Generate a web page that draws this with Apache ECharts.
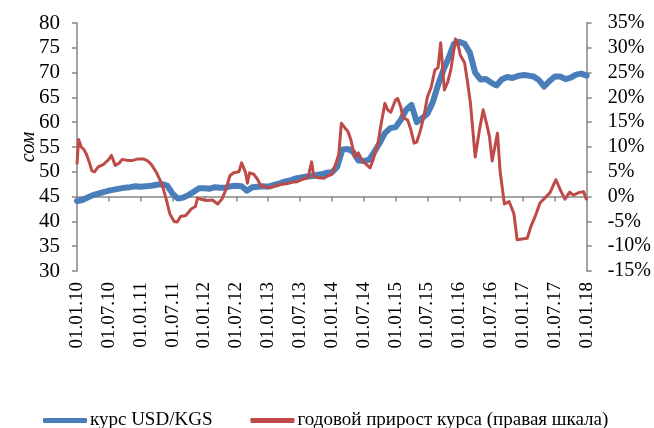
<!DOCTYPE html>
<html>
<head>
<meta charset="utf-8">
<script src="https://cdn.jsdelivr.net/npm/echarts@6/dist/echarts.min.js"></script>
<style>
  html, body { margin: 0; padding: 0; background: #fff; }
  #kgsChart { width: 654px; height: 428px; }
</style>
</head>
<body>
<div id="kgsChart"></div>
<script>
  // курс USD/KGS, по месяцам начиная с 01.01.10 (индекс = номер месяца)
  var rateValues = [
    44.1, 44.3, 44.8, 45.3, 45.6, 45.9, 46.2, 46.4, 46.6, 46.8, 46.9, 47.1,
    47.0, 47.1, 47.2, 47.4, 47.5, 47.2, 45.6, 44.6, 44.8, 45.3, 46.0, 46.7,
    46.7, 46.6, 46.9, 46.8, 46.8, 47.1, 47.2, 47.1, 46.2, 46.9, 47.0, 47.1,
    47.0, 47.3, 47.6, 48.0, 48.2, 48.6, 48.8, 49.0, 49.1, 49.3, 49.5, 49.8,
    49.9, 51.0, 54.5, 54.6, 54.0, 52.3, 52.2, 52.4, 54.0, 55.8, 57.8, 58.8,
    59.0, 60.5, 62.5, 63.5, 60.0, 60.8, 61.7, 64.0, 67.5, 70.5, 73.0, 75.8,
    76.2, 75.8, 74.0, 70.0, 68.6, 68.7, 68.0, 67.4, 68.6, 69.1, 68.9, 69.3,
    69.5, 69.4, 69.2, 68.5, 67.2, 68.3, 69.2, 69.2, 68.7, 69.0, 69.6, 69.8,
    69.4
  ]

  // годовой прирост курса, %: момент (в месяцах от 01.01.10) и значение
  var growthMonths = [
    0, 0.3, 0.8, 1.3, 1.8, 2.3, 2.8, 3.3, 4, 5, 6, 6.5, 7.2, 8, 8.5, 9.5, 10.5, 11.5,
    12.5, 13.3, 14, 15, 16, 16.8, 17.5, 18.3, 18.9, 19.5, 20.5, 21.5, 22.3, 22.7, 23.5,
    24.5, 25.5, 26.5, 27.3, 28, 28.8, 29.5, 30.5, 31, 31.7, 32.1, 32.5, 33.3, 34, 34.6, 35.5,
    36.5, 37.5, 38.5, 39.5, 40.5, 41.5, 42.5, 43.5, 44.2, 44.6, 45.5, 46.5, 47.3,
    48, 48.7, 49.3, 49.8, 50.5, 51, 51.6, 52.3, 53, 53.6, 54.2, 55.2, 55.8, 56.7, 57.3, 58, 58.5, 59.1,
    60, 60.4, 61, 61.4, 62.3, 62.9, 63.5, 64, 64.7, 65.3, 66, 66.7, 67.4, 68, 68.5, 69, 69.2, 69.8,
    70.4, 70.9, 71.3, 71.7, 72.2, 73, 73.5, 74.1, 75, 75.8, 76.5, 77.3, 77.7, 78.2, 79.2, 79.7,
    80.5, 81.4, 82.3, 82.9, 84.8, 85.5, 86.3, 87.2, 88.1, 89.1, 89.6, 90.2, 91.1, 91.9, 92.8,
    93.5, 94.5, 95.4, 96
  ]
  var growthValues = [
    6.5, 11.5, 10, 9.5, 8.5, 7, 5.2, 5, 6, 6.5, 7.5, 8.3, 6.3, 6.8, 7.5, 7.3, 7.3, 7.6,
    7.6, 7.2, 6.5, 4.8, 2.5, -0.5, -3.5, -5, -5.1, -4, -3.8, -2.5, -2, -0.3, -0.6,
    -0.8, -0.7, -1.5, -0.5, 1.3, 4.2, 4.8, 5, 6.8, 5, 2.7, 4.8, 4.5, 3.5, 2.2, 2,
    1.8, 2.2, 2.5, 2.6, 2.9, 3, 3.5, 3.8, 7, 4, 3.8, 3.7, 4.2,
    4.5, 6.5, 8.5, 14.8, 13.8, 13.2, 11.4, 8, 8.8, 7.5, 6.8, 5.8, 7.5, 10.8, 14.8, 18.8, 17.5, 17,
    19.5, 19.8, 18, 16, 15.4, 13.4, 10.8, 11, 13.4, 16, 20.1, 22, 25.5, 26, 31, 24, 21.5, 23,
    25.5, 29, 31.8, 31, 28.5, 27, 23.5, 18.9, 8, 13.4, 17.5, 14, 12, 7.2, 12.8, 5,
    -1.5, -1, -3.5, -8.7, -8.4, -6, -4, -1.3, -0.3, 0.8, 2, 3.4, 1.2, -0.5, 0.9,
    0.3, 0.8, 1, -0.7
  ]

  var seriesNames = ['курс USD/KGS', 'годовой прирост курса (правая шкала)']

  var rateData = rateValues.map(function (v, i) { return [i, v] })
  var growthData = growthMonths.map(function (m, i) { return [m, growthValues[i]] })

  var fontFamily = '"Liberation Serif", "Times New Roman", serif'
  var axisColor = '#868686'

  var chart = echarts.init(document.getElementById('kgsChart'), null, { renderer: 'canvas' })
  chart.setOption({
    animation: false,
    textStyle: { fontFamily: fontFamily, color: '#000' },
    grid: { left: 77, right: 64, top: 23, bottom: 157 },
    legend: {
      left: 38,
      top: 406,
      itemWidth: 44,
      itemHeight: 5,
      itemGap: 38,
      icon: 'roundRect',
      textStyle: { fontFamily: fontFamily, fontSize: 19, color: '#000', padding: [0, 0, 0, -2] },
      data: seriesNames
    },
    xAxis: {
      type: 'value',
      min: 0,
      max: 96,
      interval: 6,
      axisLine: { lineStyle: { color: axisColor, width: 1.5 } },
      axisTick: { show: true, length: 5, lineStyle: { color: axisColor, width: 1.5 } },
      splitLine: { show: false },
      axisLabel: {
        rotate: 90,
        margin: 11,
        fontSize: 19,
        fontFamily: fontFamily,
        color: '#000',
        formatter: function (m) {
          var yy = 10 + Math.floor(m / 12)
          var mm = (m % 12 === 0) ? '01' : '07'
          return '01.' + mm + '.' + yy
        }
      }
    },
    yAxis: [{
      type: 'value',
      min: 30,
      max: 80,
      interval: 5,
      name: 'сом',
      nameLocation: 'middle',
      nameGap: 38,
      nameMoveOverlap: false,
      nameRotate: 90,
      nameTextStyle: { fontFamily: fontFamily, fontSize: 20, fontStyle: 'italic', color: '#000' },
      axisLine: { show: true, lineStyle: { color: axisColor, width: 1.5 } },
      axisTick: { show: true, length: 5, lineStyle: { color: axisColor, width: 1.5 } },
      splitLine: { show: false },
      axisLabel: { margin: 17, fontSize: 21, fontFamily: fontFamily, color: '#000' }
    }, {
      type: 'value',
      min: -15,
      max: 35,
      interval: 5,
      position: 'right',
      axisLine: { show: true, lineStyle: { color: axisColor, width: 1.5 } },
      axisTick: { show: true, length: 5, lineStyle: { color: axisColor, width: 1.5 } },
      splitLine: { show: false },
      axisLabel: {
        margin: 21,
        fontSize: 20,
        fontFamily: fontFamily,
        color: '#000',
        formatter: function (v) { return v + '%' }
      }
    }],
    series: [{
      name: seriesNames[0],
      type: 'line',
      yAxisIndex: 0,
      showSymbol: false,
      symbol: 'none',
      lineStyle: { color: '#4A7EBB', width: 6, cap: 'round', join: 'round' },
      itemStyle: { color: '#4A7EBB' },
      data: rateData
    }, {
      name: seriesNames[1],
      type: 'line',
      yAxisIndex: 1,
      showSymbol: false,
      symbol: 'none',
      lineStyle: { color: '#BE4B48', width: 3, join: 'round' },
      itemStyle: { color: '#BE4B48' },
      data: growthData
    }]
  })
</script>
</body>
</html>
